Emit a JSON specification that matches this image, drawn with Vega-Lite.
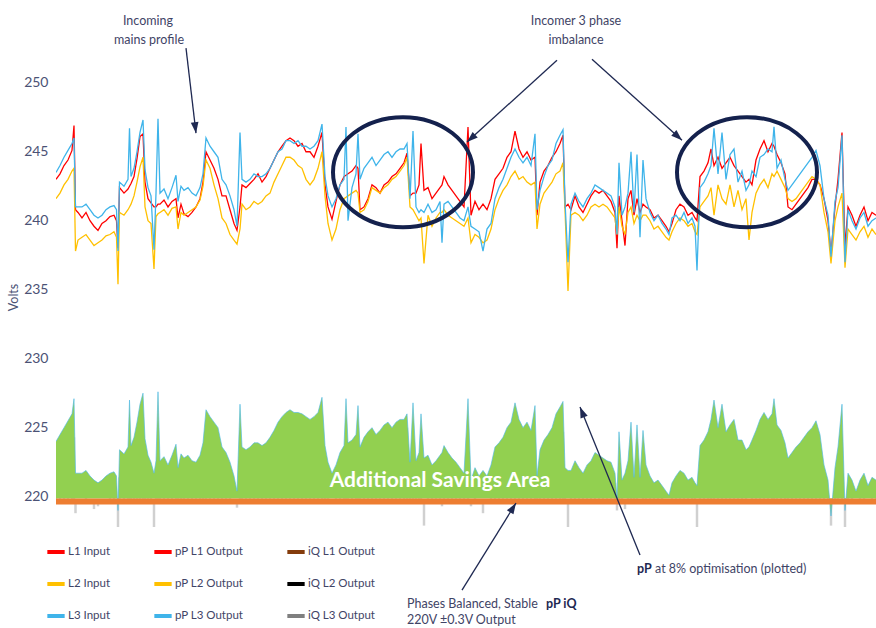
{
"$schema": "https://vega.github.io/schema/vega-lite/v6.json",
"width": 820, "height": 527, "autosize": "none",
"padding": {"left": 56, "top": 0, "right": 0, "bottom": 101},
"background": "white",
"config": {"view": {"stroke": null}},
"datasets": {
"v": [
{"t":56,"l1":243.0,"l2":241.6,"l3":243.5,"hi":224.0,"lo":222.3},
{"t":60,"l1":243.4,"l2":242.0,"l3":244.0,"hi":224.5,"lo":222.6},
{"t":64,"l1":244.0,"l2":242.6,"l3":244.6,"hi":225.0,"lo":223.2},
{"t":68,"l1":244.4,"l2":243.0,"l3":245.1,"hi":225.5,"lo":223.6},
{"t":72,"l1":245.1,"l2":243.6,"l3":245.6,"hi":226.0,"lo":224.1},
{"t":74,"l1":246.9,"l2":243.8,"l3":246.0,"hi":227.1,"lo":224.3},
{"t":75.5,"l1":240.8,"l2":237.8,"l3":241.0,"hi":221.7,"lo":218.8},
{"t":78,"l1":240.6,"l2":238.6,"l3":241.0,"hi":221.7,"lo":219.5},
{"t":82,"l1":240.2,"l2":238.8,"l3":241.0,"hi":221.7,"lo":219.7},
{"t":86,"l1":240.6,"l2":239.0,"l3":241.2,"hi":221.9,"lo":219.9},
{"t":90,"l1":240.0,"l2":238.6,"l3":240.8,"hi":221.5,"lo":219.5},
{"t":94,"l1":239.6,"l2":238.2,"l3":240.4,"hi":221.2,"lo":219.1},
{"t":98,"l1":239.3,"l2":238.4,"l3":240.2,"hi":221.0,"lo":219.3},
{"t":102,"l1":239.8,"l2":238.6,"l3":240.4,"hi":221.2,"lo":219.5},
{"t":106,"l1":240.0,"l2":238.9,"l3":240.8,"hi":221.5,"lo":219.8},
{"t":110,"l1":240.3,"l2":239.0,"l3":241.0,"hi":221.7,"lo":219.9},
{"t":114,"l1":240.4,"l2":239.2,"l3":241.1,"hi":221.8,"lo":220.1},
{"t":116.5,"l1":240.0,"l2":238.8,"l3":240.8,"hi":221.5,"lo":219.7},
{"t":118,"l1":238.0,"l2":235.4,"l3":237.8,"hi":219.0,"lo":216.6},
{"t":119.5,"l1":242.4,"l2":240.6,"l3":242.8,"hi":223.4,"lo":221.4},
{"t":124,"l1":242.0,"l2":240.4,"l3":242.5,"hi":223.1,"lo":221.2},
{"t":128,"l1":242.3,"l2":240.8,"l3":243.0,"hi":223.6,"lo":221.5},
{"t":129.5,"l1":242.5,"l2":241.0,"l3":246.7,"hi":227.0,"lo":221.7},
{"t":131,"l1":242.7,"l2":241.2,"l3":243.2,"hi":223.7,"lo":221.9},
{"t":134,"l1":243.2,"l2":241.8,"l3":243.8,"hi":224.3,"lo":222.5},
{"t":137,"l1":244.5,"l2":242.8,"l3":245.0,"hi":225.4,"lo":223.4},
{"t":140,"l1":246.1,"l2":243.9,"l3":246.4,"hi":226.7,"lo":224.4},
{"t":143,"l1":246.3,"l2":244.6,"l3":247.3,"hi":227.5,"lo":225.0},
{"t":145,"l1":242.8,"l2":241.0,"l3":243.7,"hi":224.2,"lo":221.7},
{"t":148,"l1":241.6,"l2":240.0,"l3":242.4,"hi":223.0,"lo":220.8},
{"t":151,"l1":241.3,"l2":239.8,"l3":241.8,"hi":222.5,"lo":220.6},
{"t":154,"l1":241.0,"l2":236.5,"l3":237.9,"hi":221.7,"lo":217.6},
{"t":156,"l1":241.0,"l2":240.3,"l3":242.0,"hi":222.6,"lo":221.1},
{"t":158,"l1":241.2,"l2":240.5,"l3":247.4,"hi":227.6,"lo":221.3},
{"t":160,"l1":241.2,"l2":240.6,"l3":242.0,"hi":222.6,"lo":221.4},
{"t":164,"l1":241.5,"l2":240.8,"l3":242.3,"hi":222.9,"lo":221.5},
{"t":168,"l1":241.0,"l2":240.4,"l3":241.6,"hi":222.3,"lo":221.2},
{"t":172,"l1":241.4,"l2":240.9,"l3":242.4,"hi":223.0,"lo":221.6},
{"t":176,"l1":241.6,"l2":241.0,"l3":243.3,"hi":223.8,"lo":221.7},
{"t":178,"l1":240.2,"l2":239.4,"l3":241.4,"hi":222.1,"lo":220.2},
{"t":181,"l1":241.2,"l2":240.6,"l3":242.5,"hi":223.1,"lo":221.4},
{"t":184,"l1":240.5,"l2":240.4,"l3":242.2,"hi":222.8,"lo":221.2},
{"t":188,"l1":240.3,"l2":240.6,"l3":242.4,"hi":223.0,"lo":221.1},
{"t":192,"l1":240.6,"l2":240.8,"l3":242.0,"hi":222.6,"lo":221.4},
{"t":196,"l1":241.0,"l2":241.0,"l3":241.8,"hi":222.5,"lo":221.7},
{"t":200,"l1":241.6,"l2":241.5,"l3":242.4,"hi":223.0,"lo":222.2},
{"t":203,"l1":242.8,"l2":242.5,"l3":243.4,"hi":223.9,"lo":223.1},
{"t":206,"l1":245.0,"l2":244.4,"l3":246.0,"hi":226.3,"lo":224.8},
{"t":210,"l1":244.4,"l2":243.8,"l3":245.4,"hi":225.8,"lo":224.3},
{"t":214,"l1":243.8,"l2":242.6,"l3":245.0,"hi":225.4,"lo":223.2},
{"t":218,"l1":243.0,"l2":241.6,"l3":244.6,"hi":225.0,"lo":222.3},
{"t":222,"l1":241.8,"l2":240.2,"l3":243.0,"hi":223.6,"lo":221.0},
{"t":226,"l1":241.8,"l2":239.8,"l3":242.6,"hi":223.2,"lo":220.6},
{"t":230,"l1":240.8,"l2":239.0,"l3":241.8,"hi":222.5,"lo":219.9},
{"t":234,"l1":239.8,"l2":238.6,"l3":240.8,"hi":221.5,"lo":219.5},
{"t":237,"l1":239.3,"l2":238.3,"l3":239.6,"hi":220.4,"lo":219.2},
{"t":240,"l1":241.0,"l2":239.4,"l3":246.4,"hi":226.7,"lo":220.2},
{"t":242,"l1":242.6,"l2":241.2,"l3":243.0,"hi":223.6,"lo":221.9},
{"t":246,"l1":242.4,"l2":240.8,"l3":242.8,"hi":223.4,"lo":221.5},
{"t":250,"l1":242.7,"l2":241.0,"l3":243.0,"hi":223.6,"lo":221.7},
{"t":254,"l1":243.0,"l2":241.4,"l3":243.4,"hi":223.9,"lo":222.1},
{"t":258,"l1":243.4,"l2":241.2,"l3":243.2,"hi":223.9,"lo":221.9},
{"t":262,"l1":242.8,"l2":241.4,"l3":243.2,"hi":223.7,"lo":222.1},
{"t":266,"l1":243.2,"l2":241.8,"l3":243.4,"hi":223.9,"lo":222.5},
{"t":270,"l1":243.8,"l2":242.0,"l3":243.8,"hi":224.3,"lo":222.6},
{"t":274,"l1":244.4,"l2":242.8,"l3":244.4,"hi":224.8,"lo":223.4},
{"t":278,"l1":245.0,"l2":243.4,"l3":245.0,"hi":225.4,"lo":223.9},
{"t":282,"l1":245.4,"l2":244.0,"l3":245.2,"hi":225.8,"lo":224.5},
{"t":286,"l1":245.8,"l2":244.6,"l3":245.8,"hi":226.1,"lo":225.0},
{"t":290,"l1":246.0,"l2":244.6,"l3":245.8,"hi":226.3,"lo":225.0},
{"t":294,"l1":245.8,"l2":244.4,"l3":245.6,"hi":226.1,"lo":224.8},
{"t":298,"l1":245.4,"l2":244.0,"l3":245.8,"hi":226.1,"lo":224.5},
{"t":302,"l1":245.6,"l2":243.8,"l3":245.4,"hi":226.0,"lo":224.3},
{"t":306,"l1":245.0,"l2":243.0,"l3":245.4,"hi":225.8,"lo":223.6},
{"t":310,"l1":245.0,"l2":242.6,"l3":245.2,"hi":225.6,"lo":223.2},
{"t":314,"l1":244.6,"l2":243.0,"l3":245.4,"hi":225.8,"lo":223.6},
{"t":318,"l1":245.4,"l2":243.8,"l3":245.8,"hi":226.1,"lo":224.3},
{"t":322,"l1":246.4,"l2":245.0,"l3":247.0,"hi":227.2,"lo":225.4},
{"t":325,"l1":242.6,"l2":241.8,"l3":243.2,"hi":223.7,"lo":222.5},
{"t":328,"l1":241.0,"l2":239.8,"l3":241.8,"hi":222.5,"lo":220.6},
{"t":332,"l1":240.1,"l2":238.6,"l3":241.0,"hi":221.7,"lo":219.5},
{"t":336,"l1":241.4,"l2":239.4,"l3":241.6,"hi":222.3,"lo":220.2},
{"t":340,"l1":242.6,"l2":240.8,"l3":242.6,"hi":223.2,"lo":221.5},
{"t":344,"l1":243.2,"l2":241.6,"l3":243.0,"hi":223.7,"lo":222.3},
{"t":346,"l1":243.3,"l2":241.7,"l3":246.8,"hi":227.1,"lo":222.4},
{"t":348,"l1":243.4,"l2":241.8,"l3":240.0,"hi":223.9,"lo":220.8},
{"t":352,"l1":243.6,"l2":242.0,"l3":242.4,"hi":224.1,"lo":222.6},
{"t":356,"l1":244.0,"l2":242.2,"l3":243.4,"hi":224.5,"lo":222.8},
{"t":358,"l1":243.8,"l2":242.0,"l3":246.3,"hi":226.6,"lo":222.6},
{"t":360,"l1":240.8,"l2":240.6,"l3":243.0,"hi":223.6,"lo":221.4},
{"t":364,"l1":241.0,"l2":240.8,"l3":243.8,"hi":224.3,"lo":221.5},
{"t":368,"l1":241.6,"l2":241.4,"l3":244.2,"hi":224.7,"lo":222.1},
{"t":372,"l1":242.6,"l2":242.4,"l3":244.6,"hi":225.0,"lo":223.0},
{"t":376,"l1":242.4,"l2":242.2,"l3":244.0,"hi":224.5,"lo":222.8},
{"t":380,"l1":242.0,"l2":242.0,"l3":244.4,"hi":224.8,"lo":222.6},
{"t":384,"l1":242.6,"l2":242.4,"l3":244.8,"hi":225.2,"lo":223.0},
{"t":388,"l1":242.8,"l2":242.6,"l3":245.0,"hi":225.4,"lo":223.2},
{"t":392,"l1":243.2,"l2":243.0,"l3":244.6,"hi":225.0,"lo":223.6},
{"t":396,"l1":243.4,"l2":243.2,"l3":245.0,"hi":225.4,"lo":223.7},
{"t":400,"l1":243.8,"l2":243.6,"l3":245.2,"hi":225.6,"lo":224.1},
{"t":404,"l1":244.2,"l2":244.0,"l3":245.2,"hi":225.6,"lo":224.5},
{"t":407,"l1":244.9,"l2":244.6,"l3":245.6,"hi":226.0,"lo":225.0},
{"t":410,"l1":241.8,"l2":241.0,"l3":241.6,"hi":222.5,"lo":221.7},
{"t":413,"l1":242.0,"l2":240.8,"l3":246.5,"hi":226.8,"lo":221.5},
{"t":416,"l1":242.0,"l2":240.4,"l3":241.0,"hi":222.6,"lo":221.2},
{"t":419,"l1":242.6,"l2":240.0,"l3":240.6,"hi":223.2,"lo":220.8},
{"t":421,"l1":245.6,"l2":240.2,"l3":240.8,"hi":226.0,"lo":221.0},
{"t":424,"l1":242.2,"l2":236.9,"l3":240.6,"hi":222.8,"lo":217.9},
{"t":428,"l1":242.4,"l2":240.4,"l3":241.2,"hi":223.0,"lo":221.2},
{"t":432,"l1":241.6,"l2":239.6,"l3":240.6,"hi":222.3,"lo":220.4},
{"t":436,"l1":242.0,"l2":240.2,"l3":240.8,"hi":222.6,"lo":221.0},
{"t":440,"l1":242.4,"l2":240.6,"l3":241.4,"hi":223.0,"lo":221.4},
{"t":442,"l1":242.6,"l2":240.6,"l3":238.4,"hi":223.2,"lo":219.3},
{"t":444,"l1":243.2,"l2":240.8,"l3":241.2,"hi":223.7,"lo":221.5},
{"t":448,"l1":242.6,"l2":240.4,"l3":241.4,"hi":223.2,"lo":221.2},
{"t":452,"l1":242.2,"l2":240.2,"l3":241.0,"hi":222.8,"lo":221.0},
{"t":456,"l1":241.8,"l2":240.0,"l3":240.6,"hi":222.5,"lo":220.8},
{"t":460,"l1":241.4,"l2":239.8,"l3":240.2,"hi":222.1,"lo":220.6},
{"t":464,"l1":241.0,"l2":239.6,"l3":240.0,"hi":221.7,"lo":220.4},
{"t":468,"l1":246.8,"l2":240.2,"l3":241.0,"hi":227.1,"lo":221.0},
{"t":471,"l1":240.4,"l2":238.4,"l3":239.6,"hi":221.2,"lo":219.3},
{"t":475,"l1":241.4,"l2":239.0,"l3":239.4,"hi":222.1,"lo":219.9},
{"t":479,"l1":240.8,"l2":238.8,"l3":239.2,"hi":221.5,"lo":219.7},
{"t":483,"l1":241.2,"l2":238.4,"l3":237.8,"hi":221.9,"lo":218.8},
{"t":487,"l1":240.8,"l2":238.6,"l3":239.4,"hi":221.5,"lo":219.5},
{"t":491,"l1":241.6,"l2":239.4,"l3":239.8,"hi":222.3,"lo":220.2},
{"t":495,"l1":243.0,"l2":240.8,"l3":241.6,"hi":223.6,"lo":221.5},
{"t":499,"l1":243.4,"l2":241.6,"l3":242.4,"hi":223.9,"lo":222.3},
{"t":503,"l1":243.8,"l2":242.2,"l3":243.0,"hi":224.3,"lo":222.8},
{"t":507,"l1":244.6,"l2":242.6,"l3":243.8,"hi":225.0,"lo":223.2},
{"t":511,"l1":245.0,"l2":243.2,"l3":244.6,"hi":225.4,"lo":223.7},
{"t":515,"l1":246.5,"l2":243.6,"l3":245.2,"hi":226.8,"lo":224.1},
{"t":519,"l1":245.2,"l2":243.0,"l3":244.6,"hi":225.6,"lo":223.6},
{"t":523,"l1":244.6,"l2":243.2,"l3":244.2,"hi":225.0,"lo":223.7},
{"t":527,"l1":245.0,"l2":242.8,"l3":244.6,"hi":225.4,"lo":223.4},
{"t":531,"l1":244.4,"l2":242.6,"l3":244.0,"hi":224.8,"lo":223.2},
{"t":535,"l1":244.6,"l2":242.8,"l3":246.3,"hi":226.6,"lo":223.4},
{"t":537,"l1":240.4,"l2":239.4,"l3":240.8,"hi":221.5,"lo":220.2},
{"t":540,"l1":242.8,"l2":241.2,"l3":242.2,"hi":223.4,"lo":221.9},
{"t":544,"l1":243.6,"l2":242.0,"l3":243.2,"hi":224.1,"lo":222.6},
{"t":548,"l1":244.0,"l2":242.4,"l3":244.0,"hi":224.5,"lo":223.0},
{"t":552,"l1":244.6,"l2":242.8,"l3":244.4,"hi":225.0,"lo":223.4},
{"t":556,"l1":245.0,"l2":243.4,"l3":245.6,"hi":226.0,"lo":223.9},
{"t":560,"l1":245.6,"l2":243.6,"l3":246.2,"hi":226.5,"lo":224.1},
{"t":563,"l1":246.2,"l2":244.2,"l3":246.6,"hi":226.9,"lo":224.7},
{"t":565,"l1":241.0,"l2":240.8,"l3":241.4,"hi":222.1,"lo":221.5},
{"t":568,"l1":241.2,"l2":234.9,"l3":237.0,"hi":221.9,"lo":216.1},
{"t":571,"l1":240.8,"l2":240.4,"l3":241.2,"hi":221.9,"lo":221.2},
{"t":575,"l1":241.8,"l2":240.6,"l3":242.0,"hi":222.6,"lo":221.4},
{"t":579,"l1":241.0,"l2":240.4,"l3":241.4,"hi":222.1,"lo":221.2},
{"t":583,"l1":240.6,"l2":240.0,"l3":241.0,"hi":221.7,"lo":220.8},
{"t":587,"l1":241.2,"l2":240.4,"l3":241.6,"hi":222.3,"lo":221.2},
{"t":591,"l1":241.8,"l2":241.0,"l3":242.0,"hi":222.6,"lo":221.7},
{"t":595,"l1":242.2,"l2":241.2,"l3":242.6,"hi":223.2,"lo":221.9},
{"t":599,"l1":242.0,"l2":241.0,"l3":242.4,"hi":223.0,"lo":221.7},
{"t":603,"l1":242.2,"l2":241.2,"l3":242.2,"hi":222.8,"lo":221.9},
{"t":607,"l1":241.8,"l2":241.0,"l3":242.0,"hi":222.6,"lo":221.7},
{"t":611,"l1":241.4,"l2":240.6,"l3":241.8,"hi":222.5,"lo":221.4},
{"t":615,"l1":240.6,"l2":240.2,"l3":241.0,"hi":221.7,"lo":221.0},
{"t":617,"l1":238.0,"l2":239.0,"l3":239.0,"hi":219.9,"lo":219.0},
{"t":619,"l1":241.8,"l2":241.0,"l3":244.2,"hi":224.7,"lo":221.7},
{"t":622,"l1":240.0,"l2":239.6,"l3":240.4,"hi":221.2,"lo":220.4},
{"t":625,"l1":238.2,"l2":239.0,"l3":241.0,"hi":221.7,"lo":219.1},
{"t":628,"l1":241.6,"l2":240.6,"l3":242.0,"hi":222.6,"lo":221.4},
{"t":631,"l1":242.2,"l2":241.0,"l3":245.0,"hi":225.4,"lo":221.7},
{"t":634,"l1":240.4,"l2":239.8,"l3":240.6,"hi":221.4,"lo":220.6},
{"t":637,"l1":241.6,"l2":240.4,"l3":244.8,"hi":225.2,"lo":221.2},
{"t":640,"l1":240.6,"l2":240.0,"l3":238.8,"hi":221.4,"lo":219.7},
{"t":643,"l1":241.2,"l2":240.4,"l3":244.4,"hi":224.8,"lo":221.2},
{"t":646,"l1":241.0,"l2":240.4,"l3":241.6,"hi":222.3,"lo":221.2},
{"t":650,"l1":240.8,"l2":240.0,"l3":240.6,"hi":221.5,"lo":220.8},
{"t":654,"l1":240.2,"l2":239.4,"l3":240.0,"hi":221.0,"lo":220.2},
{"t":658,"l1":240.4,"l2":239.6,"l3":240.4,"hi":221.2,"lo":220.4},
{"t":662,"l1":240.0,"l2":239.2,"l3":239.8,"hi":220.8,"lo":220.1},
{"t":666,"l1":239.6,"l2":238.8,"l3":239.4,"hi":220.4,"lo":219.7},
{"t":669,"l1":239.2,"l2":238.6,"l3":239.0,"hi":220.1,"lo":219.5},
{"t":672,"l1":239.8,"l2":239.2,"l3":240.2,"hi":221.0,"lo":220.1},
{"t":676,"l1":240.8,"l2":239.8,"l3":240.4,"hi":221.5,"lo":220.6},
{"t":680,"l1":241.2,"l2":240.2,"l3":240.0,"hi":221.9,"lo":220.8},
{"t":684,"l1":241.0,"l2":240.0,"l3":240.6,"hi":221.7,"lo":220.8},
{"t":688,"l1":240.4,"l2":239.6,"l3":239.8,"hi":221.2,"lo":220.4},
{"t":692,"l1":240.6,"l2":239.8,"l3":240.2,"hi":221.4,"lo":220.6},
{"t":695,"l1":240.2,"l2":239.2,"l3":239.6,"hi":221.0,"lo":220.1},
{"t":697,"l1":240.0,"l2":239.0,"l3":236.4,"hi":220.8,"lo":217.5},
{"t":700,"l1":243.2,"l2":241.0,"l3":242.4,"hi":223.7,"lo":221.7},
{"t":704,"l1":243.6,"l2":241.4,"l3":242.8,"hi":224.1,"lo":222.1},
{"t":708,"l1":244.2,"l2":241.8,"l3":243.4,"hi":224.7,"lo":222.5},
{"t":711,"l1":245.2,"l2":242.4,"l3":244.0,"hi":225.6,"lo":223.0},
{"t":714,"l1":244.0,"l2":240.4,"l3":246.7,"hi":227.0,"lo":221.2},
{"t":718,"l1":244.6,"l2":242.6,"l3":243.4,"hi":225.0,"lo":223.2},
{"t":722,"l1":243.8,"l2":241.6,"l3":246.4,"hi":226.7,"lo":222.3},
{"t":726,"l1":244.2,"l2":241.2,"l3":243.0,"hi":224.7,"lo":221.9},
{"t":730,"l1":244.6,"l2":242.6,"l3":244.8,"hi":225.2,"lo":223.2},
{"t":734,"l1":244.0,"l2":241.0,"l3":245.2,"hi":225.6,"lo":221.7},
{"t":738,"l1":243.6,"l2":242.2,"l3":242.8,"hi":224.1,"lo":222.8},
{"t":742,"l1":243.2,"l2":240.8,"l3":243.6,"hi":224.1,"lo":221.5},
{"t":746,"l1":242.8,"l2":241.6,"l3":242.2,"hi":223.4,"lo":222.3},
{"t":749,"l1":243.0,"l2":238.6,"l3":242.6,"hi":223.6,"lo":219.5},
{"t":752,"l1":242.6,"l2":240.6,"l3":243.6,"hi":224.1,"lo":221.4},
{"t":756,"l1":244.4,"l2":242.0,"l3":243.2,"hi":224.8,"lo":222.6},
{"t":760,"l1":245.2,"l2":242.6,"l3":244.6,"hi":225.6,"lo":223.2},
{"t":764,"l1":245.8,"l2":243.0,"l3":244.8,"hi":226.1,"lo":223.6},
{"t":768,"l1":245.0,"l2":242.4,"l3":245.2,"hi":225.6,"lo":223.0},
{"t":772,"l1":245.6,"l2":243.4,"l3":245.0,"hi":226.0,"lo":223.9},
{"t":774,"l1":245.4,"l2":243.2,"l3":246.8,"hi":227.1,"lo":223.7},
{"t":777,"l1":244.8,"l2":243.6,"l3":243.8,"hi":225.2,"lo":224.1},
{"t":781,"l1":244.2,"l2":243.0,"l3":244.4,"hi":224.8,"lo":223.6},
{"t":785,"l1":243.4,"l2":242.4,"l3":243.0,"hi":223.9,"lo":223.0},
{"t":788,"l1":241.0,"l2":241.6,"l3":242.2,"hi":222.8,"lo":221.7},
{"t":792,"l1":240.8,"l2":241.4,"l3":242.6,"hi":223.2,"lo":221.5},
{"t":796,"l1":241.2,"l2":241.6,"l3":243.0,"hi":223.6,"lo":221.9},
{"t":800,"l1":241.6,"l2":242.0,"l3":243.4,"hi":223.9,"lo":222.3},
{"t":804,"l1":242.0,"l2":242.4,"l3":243.8,"hi":224.3,"lo":222.6},
{"t":808,"l1":242.4,"l2":242.8,"l3":244.2,"hi":224.7,"lo":223.0},
{"t":812,"l1":243.0,"l2":243.2,"l3":244.6,"hi":225.0,"lo":223.6},
{"t":816,"l1":243.0,"l2":243.0,"l3":245.1,"hi":225.5,"lo":223.6},
{"t":820,"l1":242.6,"l2":242.6,"l3":244.0,"hi":224.5,"lo":223.2},
{"t":824,"l1":241.6,"l2":240.6,"l3":241.6,"hi":222.3,"lo":221.4},
{"t":828,"l1":240.0,"l2":239.2,"l3":240.4,"hi":221.2,"lo":220.1},
{"t":831,"l1":237.6,"l2":236.9,"l3":237.4,"hi":218.6,"lo":217.9},
{"t":835,"l1":241.0,"l2":240.0,"l3":241.4,"hi":222.1,"lo":220.8},
{"t":838,"l1":243.0,"l2":241.0,"l3":242.4,"hi":223.6,"lo":221.7},
{"t":842,"l1":246.4,"l2":242.0,"l3":246.2,"hi":226.7,"lo":222.6},
{"t":845,"l1":238.0,"l2":236.6,"l3":237.0,"hi":219.0,"lo":217.7},
{"t":848,"l1":241.0,"l2":239.4,"l3":240.8,"hi":221.7,"lo":220.2},
{"t":852,"l1":240.4,"l2":239.0,"l3":240.0,"hi":221.2,"lo":219.9},
{"t":856,"l1":239.6,"l2":238.6,"l3":239.4,"hi":220.4,"lo":219.5},
{"t":860,"l1":240.4,"l2":239.2,"l3":240.2,"hi":221.2,"lo":220.1},
{"t":864,"l1":241.0,"l2":239.6,"l3":240.6,"hi":221.7,"lo":220.4},
{"t":868,"l1":240.0,"l2":238.8,"l3":239.6,"hi":220.8,"lo":219.7},
{"t":872,"l1":240.6,"l2":239.4,"l3":240.0,"hi":221.4,"lo":220.2},
{"t":876,"l1":240.4,"l2":239.0,"l3":240.2,"hi":221.2,"lo":219.9}
],
"rings": [{"t":403,"v":243.52},{"t":747,"v":243.52}],
"arrows": [
{"t":186,"v":252.51,"t2":196,"v2":246.35},
{"t":557,"v":251.64,"t2":467,"v2":245.70},
{"t":592,"v":251.71,"t2":682,"v2":245.84},
{"t":640,"v":215.77,"t2":580,"v2":226.50},
{"t":462,"v":213.23,"t2":516,"v2":219.54}
]
},
"layer": [
{"data": {"name": "v"},
 "mark": {"type": "rule", "color": "#D0D0D0", "strokeWidth": 2.5, "clip": true},
 "encoding": {
  "x": {"field": "t", "type": "quantitative", "scale": {"domain": [56, 876], "nice": false, "zero": false}, "axis": null},
  "y": {"field": "lo", "type": "quantitative", "scale": {"domain": [217.8, 256], "nice": false, "zero": false}, "title": "Volts",
   "axis": {"values": [220, 225, 230, 235, 240, 245, 250], "domain": false, "ticks": false, "tickSize": 0, "grid": false,
    "labelFont": "Lato", "labelFontSize": 14, "labelColor": "#4B5275", "labelPadding": 8,
    "title": "Volts", "titleFont": "Lato", "titleFontSize": 12.5, "titleFontWeight": "normal", "titleColor": "#4B5275",
    "titleAngle": 270, "titleX": -43, "titleY": 297, "titleAlign": "center", "titleBaseline": "middle"}},
  "y2": {"datum": 219.8}
 }},
{"data": {"name": "v"},
 "mark": {"type": "area", "color": "#92D050", "clip": true},
 "encoding": {
  "x": {"field": "t", "type": "quantitative", "scale": {"domain": [56, 876], "nice": false, "zero": false}, "axis": null},
  "y": {"field": "hi", "type": "quantitative", "scale": {"domain": [217.8, 256], "nice": false, "zero": false}, "title": "Volts"},
  "y2": {"datum": 219.86}
 }},
{"data": {"name": "v"},
 "mark": {"type": "line", "color": "#4DB8E8", "strokeWidth": 0.8, "opacity": 0.8, "clip": true},
 "encoding": {
  "x": {"field": "t", "type": "quantitative", "scale": {"domain": [56, 876], "nice": false, "zero": false}, "axis": null},
  "y": {"field": "hi", "type": "quantitative", "scale": {"domain": [217.8, 256], "nice": false, "zero": false}, "title": "Volts"}
 }},
{"data": {"values": [{}]},
 "mark": {"type": "rule", "color": "#ED7D31", "strokeWidth": 6},
 "encoding": {
  "y": {"datum": 219.64, "type": "quantitative", "scale": {"domain": [217.8, 256], "nice": false, "zero": false}, "title": "Volts"}
 }},
{"data": {"name": "v"},
 "transform": [{"fold": ["l1", "l2", "l3"], "as": ["series", "volts"]}],
 "mark": {"type": "line", "strokeWidth": 1.3, "clip": true},
 "encoding": {
  "x": {"field": "t", "type": "quantitative", "scale": {"domain": [56, 876], "nice": false, "zero": false}, "axis": null},
  "y": {"field": "volts", "type": "quantitative", "scale": {"domain": [217.8, 256], "nice": false, "zero": false}, "title": "Volts"},
  "color": {"field": "series", "type": "nominal",
   "scale": {"domain": ["l1", "p1", "q1", "l2", "p2", "q2", "l3", "p3", "q3"],
    "range": ["#FF0000", "#FF0000", "#843C0C", "#FFC000", "#FFC000", "#000000", "#3FB4EA", "#3FB4EA", "#7F7F7F"]},
   "legend": {"orient": "none", "direction": "horizontal", "legendX": -11, "legendY": 541, "columns": 3, "gridAlign": "each",
    "columnPadding": 35, "rowPadding": 13, "padding": 0, "title": null,
    "symbolType": "stroke", "symbolStrokeWidth": 4, "symbolSize": 300,
    "labelFont": "Lato", "labelFontSize": 11.5, "labelColor": "#3F4466", "labelOffset": 1,
    "labelExpr": "{'l1':'L1 Input','p1':'pP L1 Output','q1':'iQ L1 Output','l2':'L2 Input','p2':'pP L2 Output','q2':'iQ L2 Output','l3':'L3 Input','p3':'pP L3 Output','q3':'iQ L3 Output'}[datum.value]"}}
 }},
{"data": {"name": "rings"},
 "mark": {"type": "point", "shape": "M-1,0A1,0.786,0,1,1,1,0A1,0.786,0,1,1,-1,0Z", "size": 19600, "filled": false, "stroke": "#14214D", "strokeWidth": 4, "opacity": 1},
 "encoding": {
  "x": {"field": "t", "type": "quantitative", "scale": {"domain": [56, 876], "nice": false, "zero": false}, "axis": null},
  "y": {"field": "v", "type": "quantitative", "scale": {"domain": [217.8, 256], "nice": false, "zero": false}, "title": "Volts"}
 }},
{"data": {"name": "arrows"},
 "mark": {"type": "rule", "color": "#1F2952", "strokeWidth": 1.3},
 "encoding": {
  "x": {"field": "t", "type": "quantitative", "scale": {"domain": [56, 876], "nice": false, "zero": false}, "axis": null},
  "y": {"field": "v", "type": "quantitative", "scale": {"domain": [217.8, 256], "nice": false, "zero": false}, "title": "Volts"},
  "x2": {"field": "t2"},
  "y2": {"field": "v2"}
 }},
{"data": {"values": [{"t": 196, "v": 246.35}]},
 "mark": {"type": "point", "shape": "M0,0L0.7,2L-0.7,2Z", "size": 121, "filled": true, "color": "#1F2952", "opacity": 1, "angle": 173},
 "encoding": {"x": {"field": "t", "type": "quantitative", "axis": null}, "y": {"field": "v", "type": "quantitative", "title": "Volts"}}},
{"data": {"values": [{"t": 467, "v": 245.70}]},
 "mark": {"type": "point", "shape": "M0,0L0.7,2L-0.7,2Z", "size": 121, "filled": true, "color": "#1F2952", "opacity": 1, "angle": 228},
 "encoding": {"x": {"field": "t", "type": "quantitative", "axis": null}, "y": {"field": "v", "type": "quantitative", "title": "Volts"}}},
{"data": {"values": [{"t": 682, "v": 245.84}]},
 "mark": {"type": "point", "shape": "M0,0L0.7,2L-0.7,2Z", "size": 121, "filled": true, "color": "#1F2952", "opacity": 1, "angle": 132},
 "encoding": {"x": {"field": "t", "type": "quantitative", "axis": null}, "y": {"field": "v", "type": "quantitative", "title": "Volts"}}},
{"data": {"values": [{"t": 580, "v": 226.50}]},
 "mark": {"type": "point", "shape": "M0,0L0.7,2L-0.7,2Z", "size": 121, "filled": true, "color": "#1F2952", "opacity": 1, "angle": 338},
 "encoding": {"x": {"field": "t", "type": "quantitative", "axis": null}, "y": {"field": "v", "type": "quantitative", "title": "Volts"}}},
{"data": {"values": [{"t": 516, "v": 219.54}]},
 "mark": {"type": "point", "shape": "M0,0L0.7,2L-0.7,2Z", "size": 121, "filled": true, "color": "#1F2952", "opacity": 1, "angle": 32},
 "encoding": {"x": {"field": "t", "type": "quantitative", "axis": null}, "y": {"field": "v", "type": "quantitative", "title": "Volts"}}},
{"data": {"values": [
  {"t": 148, "v": 254.47, "label": "Incoming"},
  {"t": 149, "v": 253.09, "label": "mains profile"},
  {"t": 576, "v": 254.47, "label": "Incomer 3 phase"},
  {"t": 576, "v": 253.09, "label": "imbalance"}]},
 "mark": {"type": "text", "font": "Lato", "fontSize": 12.5, "color": "#3F4466", "align": "center", "baseline": "middle"},
 "encoding": {"x": {"field": "t", "type": "quantitative", "axis": null}, "y": {"field": "v", "type": "quantitative", "title": "Volts"}, "text": {"field": "label"}}},
{"data": {"values": [
  {"t": 655, "v": 214.76, "label": "at 8% optimisation (plotted)"},
  {"t": 407, "v": 212.22, "label": "Phases Balanced, Stable"},
  {"t": 407, "v": 211.06, "label": "220V ±0.3V Output"}]},
 "mark": {"type": "text", "font": "Lato", "fontSize": 12.5, "color": "#3F4466", "align": "left", "baseline": "middle"},
 "encoding": {"x": {"field": "t", "type": "quantitative", "axis": null}, "y": {"field": "v", "type": "quantitative", "title": "Volts"}, "text": {"field": "label"}}},
{"data": {"values": [
  {"t": 637, "v": 214.76, "label": "pP"},
  {"t": 546, "v": 212.22, "label": "pP iQ"}]},
 "mark": {"type": "text", "font": "Lato", "fontSize": 12.5, "fontWeight": "bold", "color": "#1F2952", "align": "left", "baseline": "middle"},
 "encoding": {"x": {"field": "t", "type": "quantitative", "axis": null}, "y": {"field": "v", "type": "quantitative", "title": "Volts"}, "text": {"field": "label"}}},
{"data": {"values": [{"t": 440, "v": 221.13, "label": "Additional Savings Area"}]},
 "mark": {"type": "text", "font": "Lato", "fontSize": 21, "fontWeight": "bold", "color": "white", "align": "center", "baseline": "middle"},
 "encoding": {"x": {"field": "t", "type": "quantitative", "axis": null}, "y": {"field": "v", "type": "quantitative", "title": "Volts"}, "text": {"field": "label"}}}
]
}
